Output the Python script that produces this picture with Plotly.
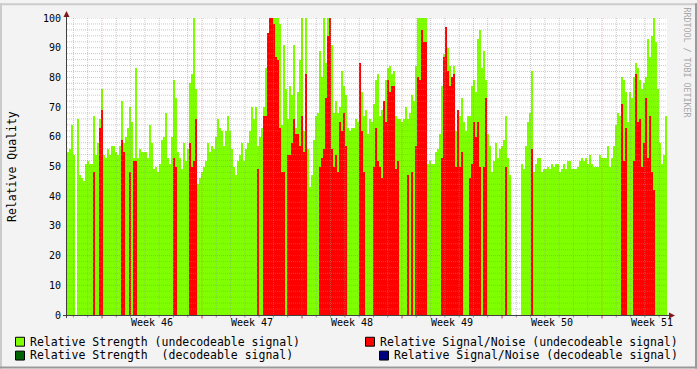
import numpy as np
import pandas as pd
import plotly.graph_objects as go

N = None
# ---------------- data ----------------
week_labels = ["Week 46", "Week 47", "Week 48", "Week 49", "Week 50", "Week 51"]

# Relative Strength (undecodeable signal), one value per sample (~3.4 h)
strength_undecodeable = [
    55, 56, 64, 54, N, 66, 47, 46, 45, 51,
    52, 51, 51, 67, 54, 58, 66, 76, 54, 53,
    56, 54, 57, 57, 55, 54, 57, 72, 58, 60,
    63, 70, 65, 53, 83, 53, 56, 55, 55, 55,
    53, 64, 58, 49, 50, 48, 51, 59, 60, 68,
    53, 51, 60, 79, 73, 55, 53, 49, 58, 52,
    56, 78, 81, 100, 76, 44, 46, 48, 50, 52,
    58, 55, 57, 56, 60, 66, 63, 62, 57, 62,
    67, 62, 56, 50, 47, 52, 54, 58, 52, 56,
    58, 62, 70, 66, 70, 57, 60, 63, 70, 83,
    80, 100, 100, 100, 100, 100, 98, 64, 91, 76,
    66, 77, 74, 91, 63, 75, 86, 100, 62, 100,
    56, 43, 47, 59, 67, 68, 89, 80, 100, 85,
    100, 91, 91, 68, 72, 68, 70, 82, 77, 74,
    63, 62, 63, 63, 66, 65, 80, 75, 67, 69,
    61, 66, 65, 71, 79, 81, 67, 69, 72, 79,
    83, 84, 81, 82, 67, 66, 66, 65, 66, 70,
    66, 68, 74, 72, 84, 100, 100, 100, 100, 100,
    51, 52, 51, 51, 55, 56, 61, 77, 88, 95,
    90, 84, 75, 84, 62, 55, 67, 73, 65, 62,
    67, 67, 77, 79, 75, 93, 96, 83, 89, 79,
    61, 57, 48, 52, 58, 53, 56, 57, 59, 67,
    53, 47, N, N, N, N, N, 51, 49, 57,
    65, 68, 82, 48, 51, 53, 53, 48, 49, 49,
    50, 49, 51, 50, 51, 51, 48, 49, 51, 49,
    52, 52, 49, 49, 49, 50, 52, 53, 52, 53,
    51, 54, 51, 50, 50, 50, 54, 53, 53, 53,
    57, 50, 53, 57, 64, 68, 67, 80, 79, 75,
    65, 75, 73, 80, 85, 83, 79, 76, 78, 80,
    93, 87, 94, 100, 92, 76, 58, 51, 54, 67,
]

# Relative Signal/Noise (undecodeable signal)
snr_undecodeable = [
    N, N, N, N, N, N, N, N, N, N,
    N, N, N, 48, N, N, 63, 69, N, N,
    N, N, N, N, N, N, N, 59, 55, N,
    N, 48, N, 52, 52, N, N, N, N, N,
    N, N, N, N, N, N, N, N, N, N,
    N, N, N, 53, 50, N, N, N, N, N,
    N, 58, 50, 52, 66, N, N, N, N, N,
    N, N, N, N, N, N, N, N, N, N,
    N, N, N, N, N, N, N, N, N, N,
    N, N, N, N, N, 49, N, N, 67, 67,
    95, 100, 100, 98, 87, 86, 63, 48, 48, N,
    54, 54, 58, 66, 61, 61, 57, 67, 55, 81,
    N, N, N, N, N, N, 50, 53, 56, 73,
    94, 100, 56, 50, 54, 48, 65, 62, 68, 57,
    N, N, N, N, N, N, 85, 62, 48, N,
    N, N, N, 50, 63, 52, 50, 46, 72, 65,
    79, 75, 77, 77, 49, 52, N, N, N, N,
    47, N, 48, N, 57, 80, 79, 96, 92, 92,
    N, N, N, N, N, N, N, 53, 87, 97,
    82, 77, 80, 81, 50, 69, 50, 55, N, N,
    N, 46, 51, 65, 60, 65, 50, N, 50, 73,
    N, N, N, N, N, N, N, N, N, 50,
    N, N, N, N, N, N, N, N, N, N,
    N, N, 56, N, N, N, N, N, N, N,
    N, N, N, N, N, N, N, N, N, N,
    N, N, N, N, N, N, N, N, N, N,
    N, N, N, N, N, N, N, N, N, N,
    N, N, N, N, N, N, N, 71, 52, 63,
    N, N, N, 52, 81, 65, 66, 50, 58, 73,
    53, 67, 48, 42, N, N, N, N, N, N,
]

legend_labels = [
    "Relative Strength (undecodeable signal)",
    "Relative Signal/Noise (undecodeable signal)",
    "Relative Strength\u00a0 (decodeable signal)",
    "Relative Signal/Noise (decodeable signal)",
]

# ---------------- time axis ----------------
week46 = pd.Timestamp("2008-11-10")          # Monday of week 46
step = pd.Timedelta(seconds=12096)            # sample step
x = week46 + (np.arange(len(strength_undecodeable)) - 17) * step
x_start = week46 - pd.Timedelta(days=2.45)
x_end = week46 + pd.Timedelta(days=39.55)

GREEN = "#80FF00"
RED = "#FF0000"
DKGREEN = "#006400"
NAVY = "#000080"
FONT = "DejaVu Sans Mono"

W_PX, H_PX = 697, 369
L, T, PW, PH = 67, 15, 600, 300


def PX(px):
    return (px - L) / PW


def PY(py):
    return (T + PH - py) / PH


fig = go.Figure()
fig.add_bar(x=x, y=strength_undecodeable, width=step.total_seconds() * 1000,
            marker=dict(color=GREEN, line=dict(width=0)), opacity=1,
            name=legend_labels[0], showlegend=False, hoverinfo="skip")
fig.add_bar(x=x, y=snr_undecodeable, width=step.total_seconds() * 1000,
            marker=dict(color=RED, line=dict(width=0)), opacity=1,
            name=legend_labels[1], showlegend=False, hoverinfo="skip")

shapes = []
MINOR = "rgba(150,150,150,0.5)"
MAJOR = "rgba(222,80,80,0.4)"
# vertical grid (days, weeks)
for d in range(-2, 40):
    xv = week46 + pd.Timedelta(days=d)
    major = d % 7 == 0
    shapes.append(dict(type="line", xref="x", yref="paper", x0=xv, x1=xv, y0=0, y1=1,
                       line=dict(color=MAJOR if major else MINOR, width=1, dash="1px,1px"),
                       layer="above"))
    shapes.append(dict(type="line", xref="x", yref="paper", x0=xv, x1=xv, y0=0,
                       y1=PY(318.5) if major else PY(317.5),
                       line=dict(color="#CC3030" if major else "#909090", width=1),
                       layer="above"))
# horizontal grid
for v in range(2, 101, 2):
    major = v % 10 == 0
    shapes.append(dict(type="line", xref="paper", yref="y", x0=0, x1=1, y0=v, y1=v,
                       line=dict(color=MAJOR if major else MINOR, width=1, dash="1px,1px"),
                       layer="above"))

AX = "#404040"
ARROW = "#7F1818"
# axes lines
shapes.append(dict(type="line", xref="paper", yref="paper", x0=PX(66.5), x1=PX(66.5),
                   y0=PY(318), y1=PY(12), line=dict(color=AX, width=1), layer="above"))
shapes.append(dict(type="line", xref="paper", yref="paper", x0=PX(63), x1=PX(670),
                   y0=PY(315.5), y1=PY(315.5), line=dict(color=AX, width=1), layer="above"))
# arrows
shapes.append(dict(type="path", xref="paper", yref="paper",
                   path=f"M {PX(63.5)} {PY(14)} L {PX(69.5)} {PY(14)} L {PX(66.5)} {PY(8)} Z",
                   fillcolor=ARROW, line=dict(width=0), layer="above"))
shapes.append(dict(type="path", xref="paper", yref="paper",
                   path=f"M {PX(669)} {PY(312.5)} L {PX(669)} {PY(318.5)} L {PX(675)} {PY(315.5)} Z",
                   fillcolor=ARROW, line=dict(width=0), layer="above"))
# 3D frame
shapes.append(dict(type="rect", xref="paper", yref="paper", x0=PX(0), x1=PX(W_PX), y0=PY(0), y1=PY(2),
                   fillcolor="#CBCBCB", line=dict(width=0)))
shapes.append(dict(type="rect", xref="paper", yref="paper", x0=PX(0), x1=PX(2), y0=PY(0), y1=PY(H_PX),
                   fillcolor="#CBCBCB", line=dict(width=0)))
shapes.append(dict(type="rect", xref="paper", yref="paper", x0=PX(0), x1=PX(W_PX), y0=PY(H_PX - 2), y1=PY(H_PX),
                   fillcolor="#999999", line=dict(width=0)))
shapes.append(dict(type="rect", xref="paper", yref="paper", x0=PX(W_PX - 2), x1=PX(W_PX), y0=PY(0), y1=PY(H_PX),
                   fillcolor="#999999", line=dict(width=0)))

# legend
legend_items = [
    (GREEN, 15, 337, 30, legend_labels[0]),
    (RED, 365, 337, 380, legend_labels[1]),
    (DKGREEN, 15, 351, 30, legend_labels[2]),
    (NAVY, 379, 351, 394, legend_labels[3]),
]
annotations = []
for col, sx, sy, tx, lab in legend_items:
    shapes.append(dict(type="rect", xref="paper", yref="paper", x0=PX(sx + 0.5), x1=PX(sx + 9.5),
                       y0=PY(sy + 0.5), y1=PY(sy + 9.5), fillcolor=col,
                       line=dict(color="#000000", width=1)))
    annotations.append(dict(xref="paper", yref="paper", x=PX(tx - 2), y=PY(sy + 4.8),
                            xanchor="left", yanchor="middle", text=lab, showarrow=False,
                            font=dict(family=FONT, size=11.5, color="#000000")))

annotations.append(dict(xref="paper", yref="paper", x=PX(11.5), y=PY(165), text="Relative Quality",
                        textangle=-90, showarrow=False, xanchor="center", yanchor="middle",
                        font=dict(family=FONT, size=11.5, color="#000000")))
annotations.append(dict(xref="paper", yref="paper", x=PX(687), y=PY(60), text="RRDTOOL / TOBI OETIKER",
                        textangle=90, showarrow=False, xanchor="center", yanchor="middle",
                        font=dict(family=FONT, size=8.3, color="#A8A8A8")))

fig.update_layout(
    width=W_PX, height=H_PX, autosize=False,
    margin=dict(l=L, r=W_PX - L - PW, t=T, b=H_PX - T - PH),
    paper_bgcolor="#F3F3F3", plot_bgcolor="#FFFFFF",
    barmode="overlay", bargap=0,
    showlegend=False,
    shapes=shapes, annotations=annotations,
    xaxis=dict(type="date", range=[x_start, x_end], showgrid=False, zeroline=False,
               tickvals=[week46 + pd.Timedelta(days=3.5 + 7 * k) for k in range(len(week_labels))],
               ticktext=week_labels, ticks="", showline=False,
               tickfont=dict(family=FONT, size=10, color="#000000")),
    yaxis=dict(range=[0, 100], showgrid=False, zeroline=False, tickvals=list(range(0, 101, 10)),
               ticks="", showline=False, ticklabelstandoff=5,
               tickfont=dict(family=FONT, size=10, color="#000000")),
)

fig.write_html("out.html")
